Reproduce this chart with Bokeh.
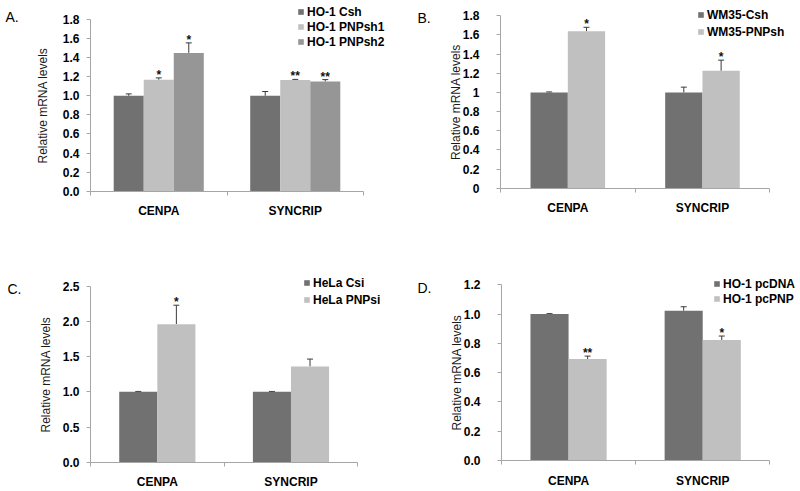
from bokeh.plotting import figure
from bokeh.models import (Range1d, FixedTicker, ColumnDataSource, Whisker, TeeHead,
                          LabelSet, Label, Legend, LegendItem)
from bokeh.layouts import column, row
from bokeh.core.properties import value
from bokeh.embed import file_html
from bokeh.resources import INLINE

FONT = "Liberation Sans"

categories = ["CENPA", "SYNCRIP"]

# Panel A
a_series = ["HO-1 Csh", "HO-1 PNPsh1", "HO-1 PNPsh2"]
a_values = [[1.00, 1.00], [1.168, 1.165], [1.45, 1.15]]
a_errors = [[0.02, 0.045], [0.02, 0.007], [0.105, 0.02]]
a_marks = [["", ""], ["*", "**"], ["*", "**"]]
a_ticks = [0.0, 0.2, 0.4, 0.6, 0.8, 1.0, 1.2, 1.4, 1.6, 1.8]
a_tick_labels = ["0.0", "0.2", "0.4", "0.6", "0.8", "1.0", "1.2", "1.4", "1.6", "1.8"]

# Panel B
b_series = ["WM35-Csh", "WM35-PNPsh"]
b_values = [[1.00, 1.00], [1.638, 1.225]]
b_errors = [[0.005, 0.055], [0.042, 0.112]]
b_marks = [["", ""], ["*", "*"]]
b_ticks = [0.0, 0.2, 0.4, 0.6, 0.8, 1.0, 1.2, 1.4, 1.6, 1.8]
b_tick_labels = ["0", "0.2", "0.4", "0.6", "0.8", "1", "1.2", "1.4", "1.6", "1.8"]

# Panel C
c_series = ["HeLa Csi", "HeLa PNPsi"]
c_values = [[1.00, 1.00], [1.96, 1.36]]
c_errors = [[0.005, 0.005], [0.27, 0.105]]
c_marks = [["", ""], ["*", ""]]
c_ticks = [0.0, 0.5, 1.0, 1.5, 2.0, 2.5]
c_tick_labels = ["0.0", "0.5", "1.0", "1.5", "2.0", "2.5"]

# Panel D
d_series = ["HO-1 pcDNA", "HO-1 pcPNP"]
d_values = [[1.00, 1.023], [0.693, 0.823]]
d_errors = [[0.003, 0.027], [0.02, 0.027]]
d_marks = [["", ""], ["**", "*"]]
d_ticks = [0.0, 0.2, 0.4, 0.6, 0.8, 1.0, 1.2]
d_tick_labels = ["0.0", "0.2", "0.4", "0.6", "0.8", "1.0", "1.2"]

DARK = "#717171"
LIGHT = "#c0c0c0"
MID = "#969696"
AXIS = "#a6a6a6"
ERR = "#3a3a3a"

FIG_W = 400
FIG_H = 245


def make_panel(series, values, errors, marks, colors, ticks, tick_labels, letter,
               ax_left, ax_right, ax_top, ax_bottom, bar_w, tick_standoff,
               label_standoff, legend_loc, legend_spacing, letter_pos):
    n = len(categories)
    k = len(series)
    y_max = ticks[-1]
    ppx = (ax_right - ax_left) / n
    ppy = (ax_bottom - ax_top) / y_max
    x_range = Range1d(-ax_left / ppx, n + (FIG_W - ax_right) / ppx)
    y_range = Range1d(-(FIG_H - ax_bottom) / ppy, y_max + ax_top / ppy)
    p = figure(frame_width=FIG_W, frame_height=FIG_H,
               min_border=0, min_border_left=0, min_border_right=0,
               min_border_top=0, min_border_bottom=0,
               x_range=x_range, y_range=y_range,
               output_backend="svg", toolbar_location=None, tools="")
    p.outline_line_color = None
    p.grid.visible = False
    p.background_fill_color = "white"
    p.border_fill_color = "white"

    centers = [i + 0.5 for i in range(n)]
    items = []
    for j in range(k):
        off = (j - (k - 1) / 2) * bar_w
        xs = [c + off for c in centers]
        upper = [v + e for v, e in zip(values[j], errors[j])]
        src = ColumnDataSource(dict(x=xs, top=values[j], upper=upper, mark=marks[j]))
        r = p.vbar(x="x", top="top", width=bar_w, source=src,
                   fill_color=colors[j], line_color=None)
        items.append(LegendItem(label=series[j], renderers=[r]))
        p.add_layout(Whisker(source=src, base="x", lower="top", upper="upper",
                             dimension="height", line_color=ERR, line_width=1,
                             upper_head=TeeHead(size=6, line_color=ERR, line_width=1),
                             lower_head=None))
        p.add_layout(LabelSet(x="x", y="upper", text="mark", source=src,
                              text_align="center", text_baseline="alphabetic",
                              y_offset=-1, text_font=value(FONT),
                              text_font_size="12px", text_font_style="bold",
                              text_color="#111111"))

    # x axis
    xa = p.xaxis[0]
    xa.fixed_location = 0
    xa.bounds = (0, n)
    xa.ticker = FixedTicker(ticks=centers, minor_ticks=list(range(n + 1)))
    xa.major_label_overrides = {c: cat for c, cat in zip(centers, categories)}
    xa.major_tick_line_color = None
    xa.major_tick_out = 0
    xa.major_tick_in = 0
    xa.minor_tick_line_color = AXIS
    xa.minor_tick_out = 4
    xa.minor_tick_in = 0
    xa.axis_line_color = AXIS
    xa.major_label_standoff = 9
    xa.major_label_text_font = FONT
    xa.major_label_text_font_size = "12px"
    xa.major_label_text_font_style = "bold"
    xa.major_label_text_color = "#000000"

    # y axis
    ya = p.yaxis[0]
    ya.fixed_location = 0
    ya.bounds = (0, y_max)
    ya.ticker = FixedTicker(ticks=ticks)
    ya.major_label_overrides = dict(zip(ticks, tick_labels))
    ya.axis_line_color = AXIS
    ya.major_tick_line_color = AXIS
    ya.major_tick_out = 4
    ya.major_tick_in = 0
    ya.minor_tick_line_color = None
    ya.major_label_standoff = tick_standoff
    ya.major_label_text_font = FONT
    ya.major_label_text_font_size = "12px"
    ya.major_label_text_font_style = "bold"
    ya.major_label_text_color = "#000000"
    ya.axis_label = "Relative mRNA levels"
    ya.axis_label_text_font = FONT
    ya.axis_label_text_font_size = "12px"
    ya.axis_label_text_font_style = "normal"
    ya.axis_label_text_color = "#1a1a1a"
    ya.axis_label_standoff = label_standoff

    legend = Legend(items=items, location=legend_loc, orientation="vertical",
                    label_text_font=FONT, label_text_font_size="12px",
                    label_text_font_style="bold", label_text_color="#000000",
                    glyph_width=7, glyph_height=7, label_standoff=3,
                    label_height=12, spacing=legend_spacing, padding=0, margin=0,
                    border_line_color=None, background_fill_alpha=0)
    p.add_layout(legend)

    p.add_layout(Label(x=letter_pos[0], y=letter_pos[1], x_units="screen", y_units="screen",
                       text=letter, text_font=FONT, text_font_size="14px",
                       text_baseline="middle", text_align="left", text_color="#000000"))
    return p


pa = make_panel(a_series, a_values, a_errors, a_marks, [DARK, LIGHT, MID],
                a_ticks, a_tick_labels, "A.",
                ax_left=90, ax_right=363, ax_top=19, ax_bottom=190.7, bar_w=0.22,
                tick_standoff=7, label_standoff=10, legend_loc=(297, 196.3),
                legend_spacing=1, letter_pos=(5, 228.5))
pb = make_panel(b_series, b_values, b_errors, b_marks, [DARK, LIGHT],
                b_ticks, b_tick_labels, "B.",
                ax_left=100, ax_right=369.3, ax_top=15.3, ax_bottom=187.7, bar_w=0.277,
                tick_standoff=17, label_standoff=-3, legend_loc=(297, 206.3),
                legend_spacing=3, letter_pos=(17, 227.5))
pc = make_panel(c_series, c_values, c_errors, c_marks, [DARK, LIGHT],
                c_ticks, c_tick_labels, "C.",
                ax_left=90, ax_right=357.3, ax_top=40.7, ax_bottom=216.7, bar_w=0.285,
                tick_standoff=7, label_standoff=7, legend_loc=(303, 183.3),
                legend_spacing=3, letter_pos=(7, 201.5))
pd_ = make_panel(d_series, d_values, d_errors, d_marks, [DARK, LIGHT],
                 d_ticks, d_tick_labels, "D.",
                 ax_left=101, ax_right=369.3, ax_top=39.3, ax_bottom=215, bar_w=0.284,
                 tick_standoff=17, label_standoff=-3, legend_loc=(313, 184.3),
                 legend_spacing=1, letter_pos=(17, 202.5))

layout = column(row(pa, pb), row(pc, pd_))

with open("out.html", "w") as f:
    f.write(file_html(layout, INLINE))
